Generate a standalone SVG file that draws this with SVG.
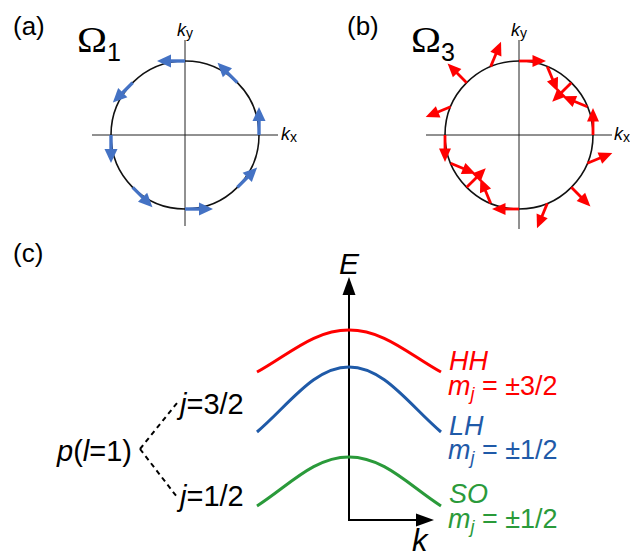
<svg xmlns="http://www.w3.org/2000/svg" xmlns:xlink="http://www.w3.org/1999/xlink" width="630" height="559" viewBox="0 0 630 559">
<style>
.lbl{font-family:"Liberation Sans",Arial,sans-serif;fill:#000}
.it{font-style:italic}
.omega{font-family:"Liberation Serif","Times New Roman",serif;font-size:35px;fill:#000}
.circ{fill:none;stroke:#111;stroke-width:1.6}
.ax{stroke:#222;stroke-width:1}
.band{fill:none;stroke-width:3}
.dash{stroke:#000;stroke-width:2;stroke-dasharray:5,4;fill:none}
</style>
<defs>
<g id="arrB"><line x1="0" y1="0" x2="16" y2="0" stroke="#4472C4" stroke-width="3.4"/><polygon points="28,0 14,-6.5 14,6.5" fill="#4472C4"/></g>
<g id="arrR"><line x1="0" y1="0" x2="15" y2="0" stroke="#FF0000" stroke-width="2.8"/><polygon points="27,0 13.5,-6 13.5,6" fill="#FF0000"/></g>
</defs>

<!-- Panel (a) -->
<g id="panel-a">
<text class="lbl" x="13" y="35" font-size="26">(a)</text>
<text class="omega" x="77" y="52" textLength="30" lengthAdjust="spacingAndGlyphs">Ω</text>
<text class="lbl" x="107" y="61" font-size="25">1</text>
<line class="ax" x1="92" y1="135" x2="278" y2="135"/>
<line class="ax" x1="185" y1="40" x2="185" y2="226"/>
<circle class="circ" cx="185" cy="135" r="74"/>
<text class="lbl" x="177" y="36"><tspan class="it" font-size="18">k</tspan><tspan font-size="14" dy="2">y</tspan></text>
<text class="lbl" x="281" y="140"><tspan class="it" font-size="18">k</tspan><tspan font-size="14" dy="2">x</tspan></text>
<use xlink:href="#arrB" transform="translate(259,135) rotate(-90)"/>
<use xlink:href="#arrB" transform="translate(237.33,82.67) rotate(-135)"/>
<use xlink:href="#arrB" transform="translate(185,61) rotate(180)"/>
<use xlink:href="#arrB" transform="translate(132.67,82.67) rotate(135)"/>
<use xlink:href="#arrB" transform="translate(111,135) rotate(90)"/>
<use xlink:href="#arrB" transform="translate(132.67,187.33) rotate(45)"/>
<use xlink:href="#arrB" transform="translate(185,209) rotate(0)"/>
<use xlink:href="#arrB" transform="translate(237.33,187.33) rotate(-45)"/>
</g>

<!-- Panel (b) -->
<g id="panel-b">
<text class="lbl" x="347" y="35" font-size="26">(b)</text>
<text class="omega" x="411" y="52" textLength="30" lengthAdjust="spacingAndGlyphs">Ω</text>
<text class="lbl" x="441" y="61" font-size="25">3</text>
<line class="ax" x1="426" y1="135" x2="612" y2="135"/>
<line class="ax" x1="519" y1="40" x2="519" y2="229"/>
<circle class="circ" cx="519" cy="135" r="74"/>
<text class="lbl" x="511" y="36"><tspan class="it" font-size="18">k</tspan><tspan font-size="14" dy="2">y</tspan></text>
<text class="lbl" x="614" y="140"><tspan class="it" font-size="18">k</tspan><tspan font-size="14" dy="2">x</tspan></text>
<use xlink:href="#arrR" transform="translate(593,135) rotate(-90)"/>
<use xlink:href="#arrR" transform="translate(587.37,106.68) rotate(-157.5)"/>
<use xlink:href="#arrR" transform="translate(571.33,82.67) rotate(135)"/>
<use xlink:href="#arrR" transform="translate(547.32,66.63) rotate(67.5)"/>
<use xlink:href="#arrR" transform="translate(519,61) rotate(0)"/>
<use xlink:href="#arrR" transform="translate(490.68,66.63) rotate(-67.5)"/>
<use xlink:href="#arrR" transform="translate(466.67,82.67) rotate(-135)"/>
<use xlink:href="#arrR" transform="translate(450.63,106.68) rotate(157.5)"/>
<use xlink:href="#arrR" transform="translate(445,135) rotate(90)"/>
<use xlink:href="#arrR" transform="translate(450.63,163.32) rotate(22.5)"/>
<use xlink:href="#arrR" transform="translate(466.67,187.33) rotate(-45)"/>
<use xlink:href="#arrR" transform="translate(490.68,203.37) rotate(-112.5)"/>
<use xlink:href="#arrR" transform="translate(519,209) rotate(180)"/>
<use xlink:href="#arrR" transform="translate(547.32,203.37) rotate(112.5)"/>
<use xlink:href="#arrR" transform="translate(571.33,187.33) rotate(45)"/>
<use xlink:href="#arrR" transform="translate(587.37,163.32) rotate(-22.5)"/>
</g>

<!-- Panel (c) -->
<g id="panel-c">
<text class="lbl" x="13" y="262" font-size="26">(c)</text>
<g id="axes">
<line x1="349" y1="520" x2="349" y2="292" stroke="#000" stroke-width="2"/>
<polygon points="349,277 342.5,295 355.5,295" fill="#000"/>
<line x1="348" y1="520" x2="418" y2="520" stroke="#000" stroke-width="2"/>
<polygon points="434,520 416,513.5 416,526.5" fill="#000"/>
<text class="lbl it" x="339" y="274" font-size="30">E</text>
<text class="lbl it" x="412" y="551" font-size="31">k</text>
</g>
<g id="band-hh">
<path class="band" stroke="#FF0000" d="M257,372 C289,354.4 314,330 349,330 C384,330 409,354.4 441,372"/>
<text class="lbl it" x="449" y="370" font-size="27" style="fill:#FF0000">HH</text>
<text class="lbl" x="448" y="395" font-size="27" style="fill:#FF0000"><tspan class="it">m</tspan><tspan class="it" font-size="18" dy="5">j</tspan><tspan dy="-5"> = ±3/2</tspan></text>
</g>
<g id="band-lh">
<path class="band" stroke="#1F5AA8" d="M257,432 C289,404.7 314,367 349,367 C384,367 409,404.7 441,432"/>
<text class="lbl it" x="449" y="435" font-size="27" style="fill:#1F5AA8">LH</text>
<text class="lbl" x="448" y="459" font-size="27" style="fill:#1F5AA8"><tspan class="it">m</tspan><tspan class="it" font-size="18" dy="5">j</tspan><tspan dy="-5"> = ±1/2</tspan></text>
</g>
<g id="band-so">
<path class="band" stroke="#2A9A3A" d="M257,506 C289,485.4 314,457 349,457 C384,457 409,485.4 441,506"/>
<text class="lbl it" x="449" y="503" font-size="27" style="fill:#2A9A3A">SO</text>
<text class="lbl" x="448" y="528" font-size="27" style="fill:#2A9A3A"><tspan class="it">m</tspan><tspan class="it" font-size="18" dy="5">j</tspan><tspan dy="-5"> = ±1/2</tspan></text>
</g>
<g id="node-p">
<text class="lbl" x="57" y="461" font-size="29"><tspan class="it">p</tspan>(<tspan class="it">l</tspan>=1)</text>
</g>
<g id="node-j32">
<text class="lbl" x="180" y="414" font-size="29"><tspan class="it">j</tspan>=3/2</text>
</g>
<g id="node-j12">
<text class="lbl" x="180" y="506" font-size="29"><tspan class="it">j</tspan>=1/2</text>
</g>
<g id="connectors">
<line class="dash" x1="140" y1="449" x2="177" y2="403"/>
<line class="dash" x1="140" y1="449" x2="177" y2="497"/>
</g>
</g>
</svg>
